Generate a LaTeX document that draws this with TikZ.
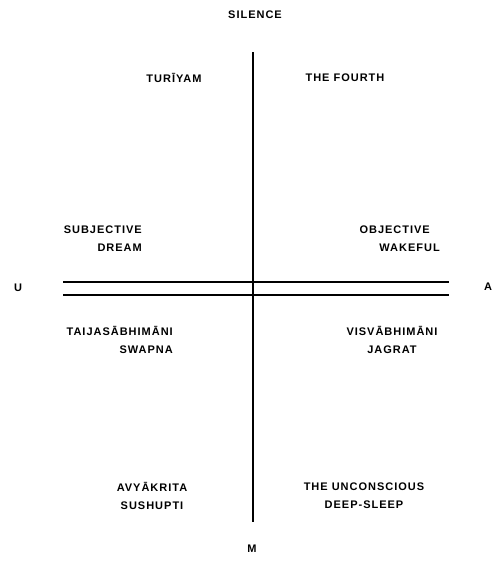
\documentclass[tikz,border=0pt]{standalone}
\usepackage{fontspec}
\setmainfont{Liberation Sans}[LetterSpace=9]
\usetikzlibrary{positioning}

\begin{document}
\begin{tikzpicture}[x=1pt,y=-1pt,font=\fontsize{11}{18}\selectfont\bfseries,
 lbl/.style={inner sep=0pt,align=center},
 axis/.style={line width=1.1pt}]
\useasboundingbox (0,0) rectangle (496,573);
% poles
\node[lbl] (silence) at (255,15) {SILENCE};
\node[lbl] (m) at (252,549) {M};
\node[lbl] (u) at (18,288) {U};
\node[lbl] (a) at (488,287) {A};
% quadrants
\node[lbl] (turiyam) at (174,78) {TUR\=IYAM};
\node[lbl] (fourth) at (345,78) {THE FOURTH};
\node[lbl,anchor=east,align=right] (subj) at (142,239) {SUBJECTIVE\\DREAM};
\node[lbl,anchor=east,align=right] (obj) at (440,239) {OBJECTIVE\kern10pt\\WAKEFUL};
\node[lbl,anchor=east,align=right] (taij) at (173,340) {TAIJAS\=ABHIM\=ANI\\SWAPNA};
\node[lbl] (visv) at (392,340) {VISV\=ABHIM\=ANI\\JAGRAT};
\node[lbl] (avy) at (152,496) {AVY\=AKRITA\\SUSHUPTI};
\node[lbl] (uncon) at (364,496) {THE UNCONSCIOUS\\DEEP-SLEEP};
% axes
\coordinate (top) at (253,52);
\coordinate (bot) at (253,522);
\coordinate (w1) at (63,282);
\coordinate (e1) at (449,282);
\coordinate (w2) at (63,295);
\coordinate (e2) at (449,295);
\draw[axis] (top) -- (bot);
\draw[axis] (w1) -- (e1);
\draw[axis] (w2) -- (e2);
\end{tikzpicture}
\end{document}
